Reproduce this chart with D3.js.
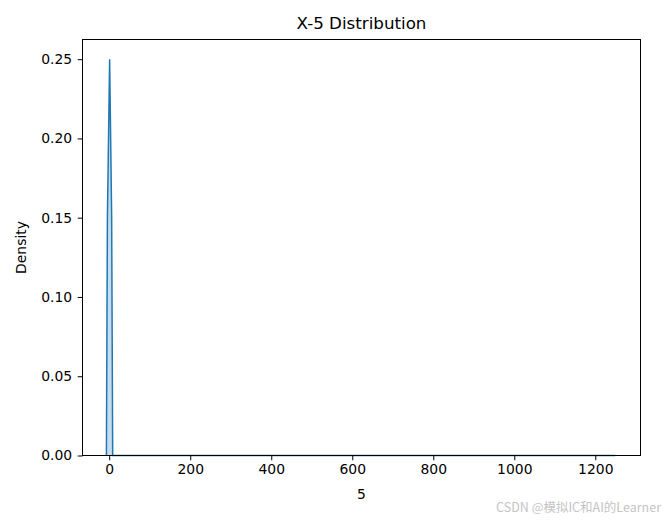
<!DOCTYPE html>
<html><head><meta charset="utf-8">
<script src="https://cdn.jsdelivr.net/npm/d3@7"></script>
<style>body{margin:0;background:#fff}svg{display:block}</style>
</head><body>
<script>
const kdeX = [-7.0, -4.5, 1.0, 6.0, 8.5, 12, 1249];
const kdeY = [0.0, 0.15, 0.2499, 0.15, 0.0, 0.0, 0.0];
const xTicks = [0, 200, 400, 600, 800, 1000, 1200];
const yTicks = [0.00, 0.05, 0.10, 0.15, 0.20, 0.25];
const title = "X-5 Distribution", xLabel = "5", yLabel = "Density";
const watermark = "CSDN @模拟IC和AI的Learner";

const W = 665, H = 522;
const L = 82.5, R = 640.5, T = 39.5, B = 455.5;
const svg = d3.select("body").append("svg").attr("width", W).attr("height", H);
const font = "DejaVu Sans, sans-serif";
const x = d3.scaleLinear().domain([-66, 1311.6]).range([L, R]);
const y = d3.scaleLinear().domain([0, 0.2624]).range([B, T]);
const data = kdeX.map((v, i) => [v, kdeY[i]]);

svg.append("path").datum(data)
  .attr("d", d3.area().x(d => x(d[0])).y0(y(0)).y1(d => y(d[1])))
  .attr("fill", "#1f77b4").attr("fill-opacity", 0.25);
svg.append("path").datum(data)
  .attr("d", d3.line().x(d => x(d[0])).y(d => y(d[1])))
  .attr("fill", "none").attr("stroke", "#1f77b4").attr("stroke-width", 1.5);

const xa = svg.append("g").attr("transform", `translate(0,${B})`)
  .call(d3.axisBottom(x).tickValues(xTicks).tickFormat(d3.format("d")).tickSize(4.8).tickPadding(3.5));
const ya = svg.append("g").attr("transform", `translate(${L},0)`)
  .call(d3.axisLeft(y).tickValues(yTicks).tickFormat(d3.format(".2f")).tickSize(4.8).tickPadding(5.5));
[xa, ya].forEach(g => {
  g.select(".domain").remove();
  g.selectAll("line").attr("stroke", "#000").attr("stroke-width", 1);
  g.selectAll("text").attr("fill", "#000").style("font-family", font).style("font-size", "13.9px");
});
svg.append("rect").attr("x", L).attr("y", T).attr("width", R - L).attr("height", B - T)
  .attr("fill", "none").attr("stroke", "#000").attr("stroke-width", 1);

svg.append("text").attr("x", (L + R) / 2).attr("y", 29).attr("text-anchor", "middle")
  .style("font-family", font).style("font-size", "16.7px").text(title);
svg.append("text").attr("x", (L + R) / 2).attr("y", 499).attr("text-anchor", "middle")
  .style("font-family", font).style("font-size", "13.9px").text(xLabel);
svg.append("text").attr("transform", `translate(26,${(T + B) / 2}) rotate(-90)`).attr("text-anchor", "middle")
  .style("font-family", font).style("font-size", "13.9px").text(yLabel);
svg.append("text").attr("x", 661).attr("y", 512).attr("text-anchor", "end")
  .attr("fill", "#c4c4c4").style("font-family", "Noto Sans CJK SC, sans-serif").style("font-size", "12.5px").text(watermark);
</script>
</body></html>
